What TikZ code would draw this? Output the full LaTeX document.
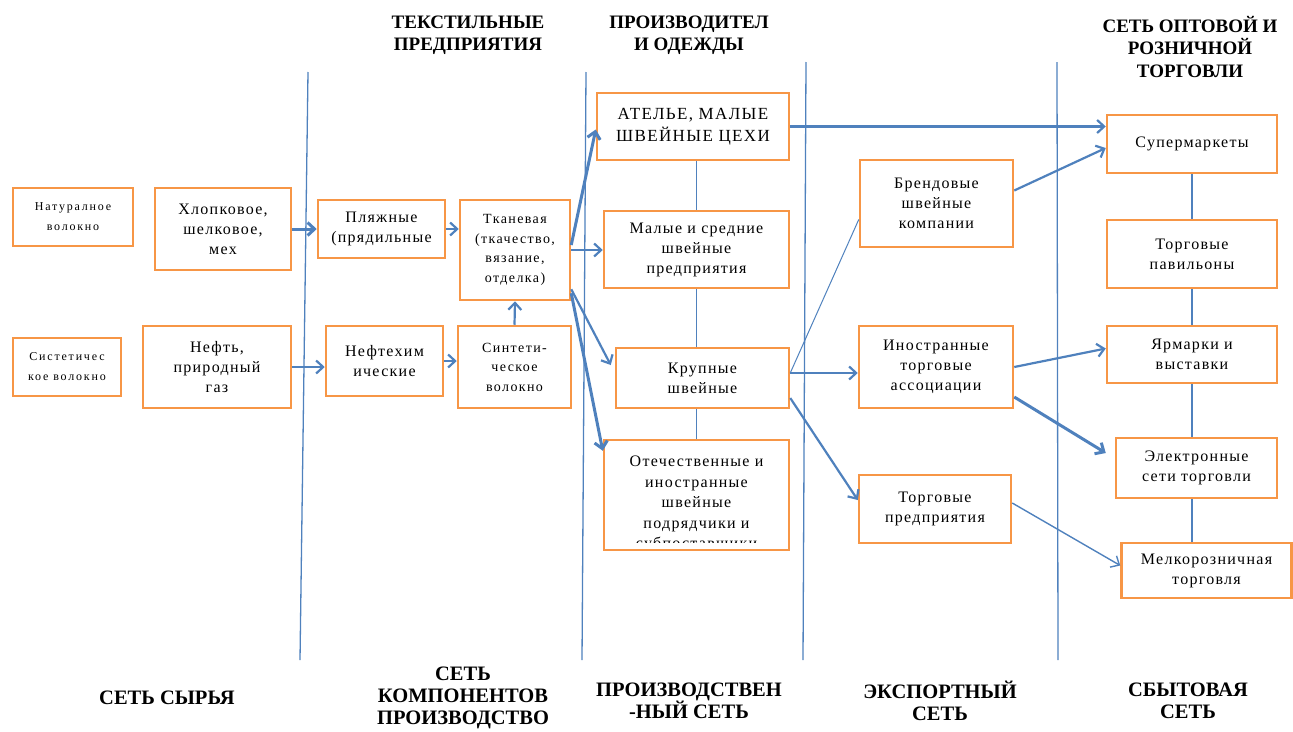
\documentclass[tikz,border=0pt]{standalone}
\usepackage{fontspec}
\setmainfont{Liberation Serif}
\newfontfamily\boxfont[LetterSpace=8]{Liberation Serif}
\newfontfamily\smallboxfont[LetterSpace=15]{Liberation Serif}
\newfontfamily\midboxfont[LetterSpace=10]{Liberation Serif}
\usetikzlibrary{arrows.meta}
\definecolor{boxorange}{HTML}{F79646}
\definecolor{lineblue}{HTML}{4F81BD}
\tikzset{
  x=1pt, y=-1pt,
  box/.style={draw=boxorange, line width=2.5pt, fill=white, align=center, inner sep=2pt,
    font=\boxfont\fontsize{16}{20}\selectfont},
  smallbox/.style={box, font=\smallboxfont\fontsize{12}{20}\selectfont},
  midbox/.style={box, font=\midboxfont\fontsize{14}{19.5}\selectfont},
  plaintext/.style={align=center, inner sep=0pt, font=\boxfont\fontsize{16}{20.5}\selectfont},
  header/.style={align=center, font=\bfseries\fontsize{19}{22.5}\selectfont},
  bheader/.style={align=center, font=\bfseries\fontsize{20.5}{22}\selectfont},
  secline/.style={draw=lineblue, line width=1.3pt},
  link/.style={draw=lineblue, line width=1.3pt},
  arr/.style={draw=lineblue, line width=2.2pt, -{Straight Barb[length=7pt,width=13pt]}},
  thickarr/.style={arr, line width=3pt},
  thinarr/.style={arr, line width=1.4pt},
}
\begin{document}
\begin{tikzpicture}
\useasboundingbox (0,0) rectangle (1293,731);

% section lines
\coordinate (l1t) at (308,72);  \coordinate (l1b) at (300,660);
\coordinate (l2t) at (586,72);  \coordinate (l2b) at (582,660);
\coordinate (l3t) at (806,62);  \coordinate (l3b) at (803,660);
\coordinate (l4t) at (1057,62); \coordinate (l4b) at (1058,660);
\draw[secline] (l1t) -- (l1b);
\draw[secline] (l2t) -- (l2b);
\draw[secline] (l3t) -- (l3b);
\draw[secline] (l4t) -- (l4b);

% headers
\node[header] (h1) at (468,35) {ТЕКСТИЛЬНЫЕ\\ПРЕДПРИЯТИЯ};
\node[header] (h2) at (689,35) {ПРОИЗВОДИТЕЛ\\И ОДЕЖДЫ};
\node[header] (h3) at (1190,47) {СЕТЬ ОПТОВОЙ И\\РОЗНИЧНОЙ\\ТОРГОВЛИ};
\node[bheader] (b1) at (167,698) {СЕТЬ СЫРЬЯ};
\node[bheader] (b2) at (463,698) {СЕТЬ\\КОМПОНЕНТОВ\\ПРОИЗВОДСТВО};
\node[bheader] (b3) at (689,701) {ПРОИЗВОДСТВЕН\\-НЫЙ СЕТЬ};
\node[bheader] (b4) at (940,701) {ЭКСПОРТНЫЙ\\СЕТЬ};
\node[bheader] (b5) at (1188,701) {СБЫТОВАЯ\\СЕТЬ};

% boxes
\node[smallbox, minimum width=120pt, minimum height=58pt] (nat) at (73,217) {Натуралное\\волокно};
\node[box, minimum width=136pt, minimum height=82pt] (hlop) at (223,229) {Хлопковое,\\шелковое,\\мех};
\node[smallbox, minimum width=108pt, minimum height=58pt] (sint) at (67,367) {Систетичес\\кое волокно};
\node[box, minimum width=148pt, minimum height=82pt] (neft) at (217,367) {Нефть,\\природный\\газ};
\node[box, minimum width=127pt, minimum height=58pt] (plyazh) at (381.5,229) {Пляжные\\(прядильные};
\node[midbox, minimum width=110pt, minimum height=100pt] (tkan) at (515,250) {Тканевая\\(ткачество,\\вязание,\\отделка)};
\node[box, minimum width=117pt, minimum height=70pt] (neftehim) at (384.5,361) {Нефтехим\\ические};
\node[midbox, minimum width=113pt, minimum height=82pt] (sintvol) at (514.5,367) {Синтети-\\ческое\\волокно};
\node[box, font=\boxfont\fontsize{17}{22}\selectfont, minimum width=192pt, minimum height=67pt] (atelie) at (693,126.5) {АТЕЛЬЕ, МАЛЫЕ\\ШВЕЙНЫЕ ЦЕХИ};
\node[box, minimum width=185pt, minimum height=77pt] (malye) at (696.5,249.5) {Малые и средние\\швейные\\предприятия};
\node[box, minimum width=173pt, minimum height=60pt] (krup) at (702.5,378) {Крупные\\швейные};
\node[box, minimum width=185pt, minimum height=110pt] (otech) at (696.5,495) {};
\begin{scope}
  \clip (606,442) rectangle (787,542);
  \node[plaintext, anchor=north] (otechtext) at (696.5,456) {Отечественные и\\иностранные\\швейные\\подрядчики и\\субпоставщики};
\end{scope}
\node[box, minimum width=153pt, minimum height=87pt] (brend) at (936.5,203.5) {Брендовые\\швейные\\компании};
\node[box, minimum width=154pt, minimum height=82pt] (inostr) at (936,367) {Иностранные\\торговые\\ассоциации};
\node[box, minimum width=152pt, minimum height=68pt] (torgpred) at (935,509) {Торговые\\предприятия};
\node[box, minimum width=170pt, minimum height=58pt] (super) at (1192,144) {Супермаркеты};
\node[box, minimum width=170pt, minimum height=68pt] (pavil) at (1192,254) {Торговые\\павильоны};
\node[box, minimum width=170pt, minimum height=57pt] (yarm) at (1192,354.5) {Ярмарки и\\выставки};
\node[box, minimum width=161pt, minimum height=60pt] (elektr) at (1196.5,468) {Электронные\\сети торговли};
\node[box, minimum width=170pt, minimum height=55pt] (melko) at (1206.5,570.5) {Мелкорозничная\\торговля};

% connectors
\draw[thickarr] (hlop.east) -- (plyazh.west);
\draw[arr] (neft.east) -- (neft.east -| neftehim.west);
\draw[arr] (plyazh.east) -- (plyazh.east -| tkan.west);
\draw[arr] (neftehim.east) -- (neftehim.east -| sintvol.west);
\draw[arr] (sintvol.north) -- (tkan.south);
\draw[thickarr] ([yshift=5pt]tkan.east) -- ([yshift=-3pt]atelie.west);
\draw[arr] (tkan.east) -- (tkan.east -| malye.west);
\draw[arr] ([yshift=12pt]tkan.south east) -- ([xshift=-4pt,yshift=13pt]krup.west);
\draw[thickarr] ([yshift=8pt]tkan.south east) -- ([yshift=-12pt]otech.north west);
\draw[arr] (atelie.east) -- (atelie.east -| super.west);
\draw[link] (malye.north |- atelie.south) -- (malye.north);
\draw[link] (malye.south) -- (malye.south |- krup.north);
\draw[link] (otech.north |- krup.south) -- (otech.north);
\draw[draw=lineblue, line width=1pt] ([yshift=5pt]krup.east) -- ([yshift=-16pt]brend.west);
\draw[arr] ([yshift=5pt]krup.east) -- ([yshift=5pt]krup.east -| inostr.west);
\draw[arr] ([yshift=-20pt]krup.east) -- ([yshift=9pt]torgpred.west);
\draw[arr] ([yshift=13pt]brend.east) -- ([yshift=-4pt]super.west);
\draw[arr] (inostr.east) -- ([yshift=6pt]yarm.west);
\draw[thickarr] ([yshift=-30pt]inostr.east) -- ([xshift=-9pt,yshift=15pt]elektr.west);
\draw[thinarr] ([yshift=6pt]torgpred.east) -- ([yshift=5pt]melko.west);
\draw[link] (super.south) -- (pavil.north);
\draw[link] (pavil.south) -- (yarm.north);
\draw[link] (yarm.south) -- (yarm.south |- elektr.north);
\draw[link] (yarm.south |- elektr.south) -- (yarm.south |- melko.north);
\end{tikzpicture}
\end{document}
